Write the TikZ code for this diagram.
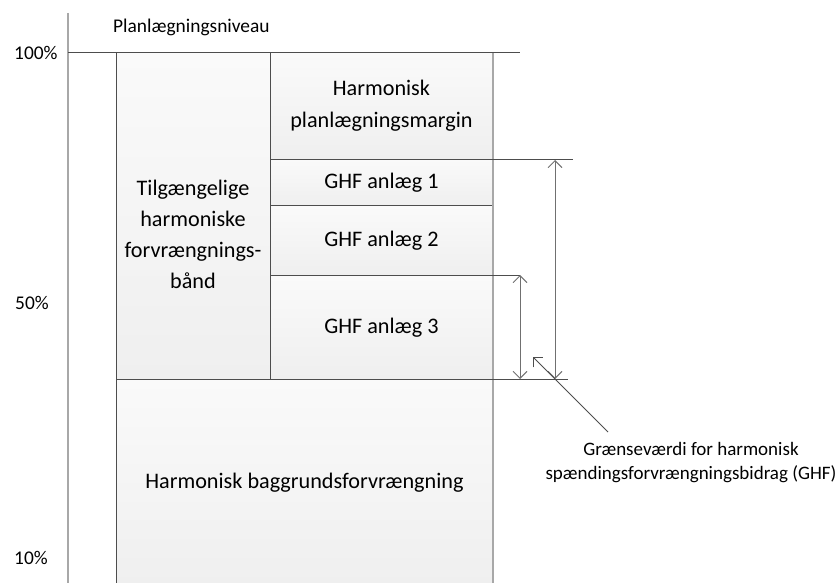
\documentclass[tikz,border=0pt]{standalone}
\usepackage{fontspec}
\setmainfont{Carlito}
\usetikzlibrary{arrows.meta}
\definecolor{HDLine}{HTML}{4D4D4D}
\definecolor{HDAxis}{HTML}{A8A8A8}
\definecolor{HDTop}{HTML}{FAFAFA}
\definecolor{HDFill}{HTML}{EFEFEF}
\definecolor{HDArrow}{HTML}{707070}

\begin{document}
\begin{tikzpicture}[x=1pt,y=-1pt,
  band/.style={draw=HDLine,line width=0.9pt,top color=HDTop,bottom color=HDFill,
    anchor=north west,inner sep=0pt,align=center,font=\fontsize{22.2}{32}\selectfont},
  bandtext/.style={align=center,inner sep=0pt,font=\fontsize{22.2}{31}\selectfont},
  scalelabel/.style={anchor=west,inner sep=0pt,font=\fontsize{19.4}{23}\selectfont},
  dimline/.style={draw=HDArrow,line width=0.9pt,
    {Straight Barb[length=7pt,width=14pt]}-{Straight Barb[length=7pt,width=14pt]}},
  pointer/.style={draw=HDLine,line width=0.8pt,-{Straight Barb[length=7pt,width=14pt]}}]
\path[use as bounding box] (0,0) rectangle (839,583);
% axis and planning level
\draw[HDAxis,line width=2pt] (68,13) -- (68,583);
\node[scalelabel] (plan) at (113,27) {Planlægningsniveau};
\node[scalelabel] (p100) at (14,53) {100\%};
\node[scalelabel] (p50) at (15,303) {50\%};
\node[scalelabel] (p10) at (14,558) {10\%};
% bands
\node[band,minimum width=154pt,minimum height=327pt] (avail) at (116,52) {};
\node[bandtext] (availtxt) at (193,234) {Tilgængelige\\harmoniske\\forvrængnings-\\bånd};
\node[band,minimum width=222pt,minimum height=107pt] (margin) at (270,52) {Harmonisk\\planlægningsmargin};
\node[band,minimum width=222pt,minimum height=46pt] (ghf1) at (270,159) {GHF anlæg 1};
\node[band,minimum width=222pt,minimum height=70pt] (ghf2) at (270,205) {GHF anlæg 2};
\node[band,minimum width=222pt,minimum height=104pt] (ghf3) at (270,275) {GHF anlæg 3};
\node[band,minimum width=376pt,minimum height=206pt] (bg) at (116,379) {Harmonisk baggrundsforvrængning};
\draw[HDAxis,line width=2.5pt] (margin.north east) -- (bg.south east);
% level lines
\coordinate (topend) at (520,52);
\coordinate (g1end) at (573,159);
\coordinate (g3end) at (520,275);
\coordinate (bgend) at (568,379);
\draw[HDLine,line width=0.9pt] (68,52) -- (topend);
\draw[HDLine,line width=0.9pt] (ghf1.north west) -- (g1end);
\draw[HDLine,line width=0.9pt] (ghf3.north west) -- (g3end);
\draw[HDLine,line width=0.9pt] (bg.north west) -- (bgend);
% limits
\coordinate (bigtop) at (555,160);
\coordinate (bigbot) at (555,379);
\coordinate (smalltop) at (520,275);
\coordinate (smallbot) at (520,379);
\draw[dimline] (bigtop) -- (bigbot);
\draw[dimline] (smalltop) -- (smallbot);
\node[align=center,inner sep=0pt,font=\fontsize{19}{24}\selectfont] (limit) at (691,463)
  {Grænseværdi for harmonisk\\spændingsforvrængningsbidrag (GHF)};
\coordinate (ptrstart) at (608,432);
\coordinate (ptrtip) at (533,357);
\draw[pointer] (ptrstart) -- (ptrtip);
\end{tikzpicture}
\end{document}
